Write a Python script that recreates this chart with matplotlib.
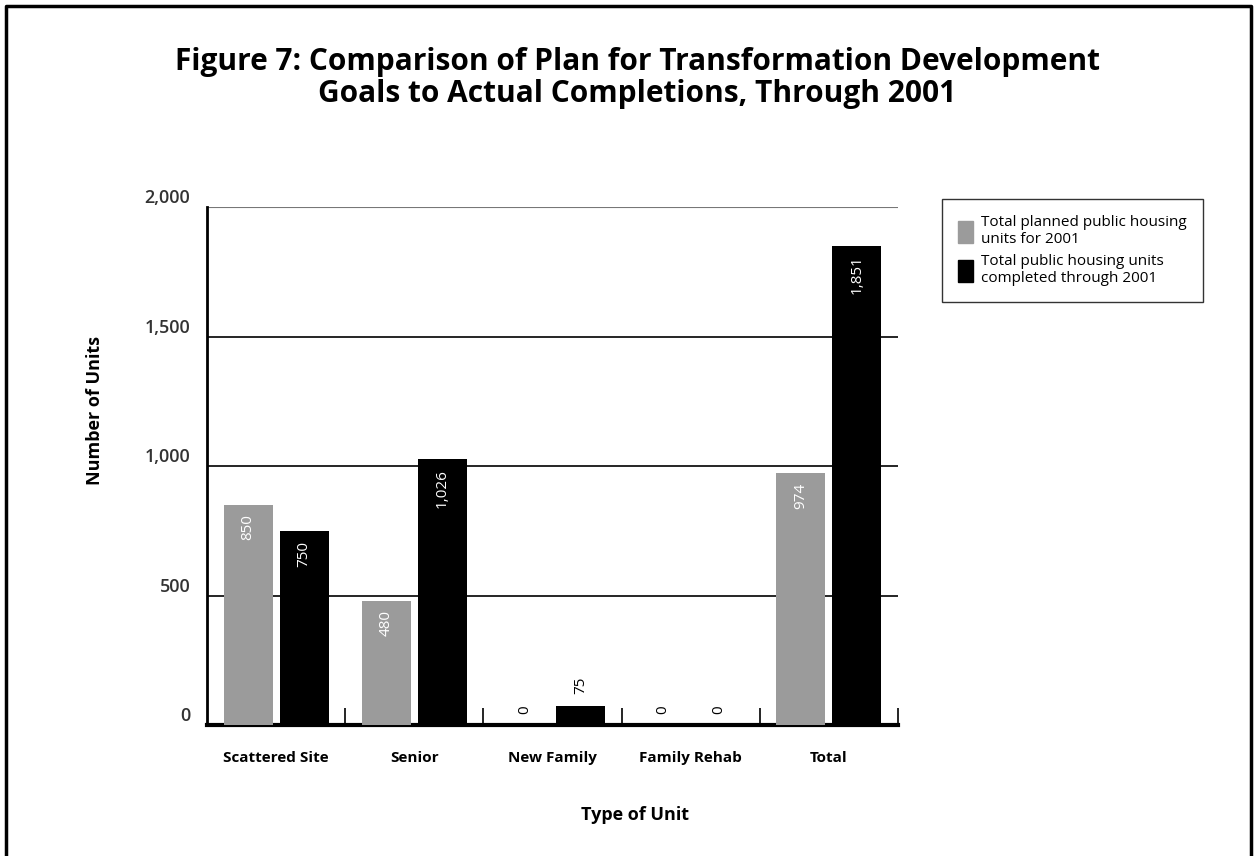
import matplotlib.pyplot as plt
from matplotlib.patches import Rectangle
import numpy as np

categories = ["Scattered Site", "Senior", "New Family", "Family Rehab", "Total"]
planned = [850, 480, 0, 0, 974]
completed = [750, 1026, 75, 0, 1851]
yticks = [0, 500, 1000, 1500, 2000]
ytick_labels = ["0", "500", "1,000", "1,500", "2,000"]

plt.rcParams["font.family"] = ["Open Sans", "DejaVu Sans"]

fig = plt.figure(figsize=(12.57, 8.56), dpi=100)
ax = fig.add_axes([0.1647, 0.1530, 0.5497, 0.6051])

x = np.arange(len(categories))
w = 0.355
off = 0.203
ax.bar(x - off, planned, w, color="#9b9b9b", zorder=3)
ax.bar(x + off, completed, w, color="#000000", zorder=3)

def put_label(xpos, val):
    txt = f"{val:,}"
    if val >= 200:
        ax.annotate(txt, (xpos, val), xytext=(0, -7), textcoords="offset points",
                    rotation=90, ha="center", va="top", color="white", fontsize=11, zorder=4)
    else:
        ax.annotate(txt, (xpos, val), xytext=(0, 8), textcoords="offset points",
                    rotation=90, ha="center", va="bottom", color="black", fontsize=11, zorder=4)

for i in range(len(categories)):
    put_label(x[i] - off, planned[i])
    put_label(x[i] + off, completed[i])

ax.set_xlim(-0.5, 4.5)
ax.set_ylim(0, 2000)

# horizontal rules behind the bars
for v in yticks[1:-1]:
    ax.axhline(v, color="black", linewidth=1.2, zorder=1)
ax.axhline(2000, color="#777777", linewidth=0.8, zorder=1)

ax.set_yticks(yticks)
ax.set_yticklabels(ytick_labels)
ax.tick_params(axis="y", length=0, pad=12, labelsize=13, labelcolor="#333333")
for lab in ax.get_yticklabels():
    lab.set_fontweight("semibold")
    lab.set_va("bottom")

# category boundaries as minor ticks, names at the centres
ax.set_xticks(x)
ax.set_xticklabels(categories, fontsize=11, fontweight="bold")
ax.tick_params(axis="x", which="major", length=0, pad=19)
ax.set_xticks(np.arange(0.5, 4.6, 1.0), minor=True)
ax.tick_params(axis="x", which="minor", direction="in", length=12, width=1.2, color="black")

for s in ["top", "right"]:
    ax.spines[s].set_visible(False)
ax.spines["left"].set_linewidth(2)
ax.spines["bottom"].set_linewidth(3)

fig.text(0.0756, 0.521, "Number of Units", rotation=90, ha="center", va="center",
         fontsize=13, fontweight="bold")
fig.text(0.505, 0.048, "Type of Unit", ha="center", va="center",
         fontsize=13, fontweight="bold")

fig.text(0.507, 0.909, "Figure 7: Comparison of Plan for Transformation Development\nGoals to Actual Completions, Through 2001",
         ha="center", va="center", fontsize=21.5, fontweight="bold", linespacing=1.1)

leg = fig.legend(handles=[Rectangle((0, 0), 1, 1, color="#9b9b9b"), Rectangle((0, 0), 1, 1, color="#000000")],
                 labels=["Total planned public housing\nunits for 2001", "Total public housing units\ncompleted through 2001"],
                 loc="upper left", bbox_to_anchor=(942 / 1257, 1 - 199 / 856), borderaxespad=0,
                 fontsize=11, frameon=True, fancybox=False, edgecolor="black",
                 handlelength=1.0, handleheight=1.8, handletextpad=0.5, borderpad=1.05,
                 labelspacing=0.45)
leg.get_frame().set_linewidth(1.0)

# outer frame: left, top and right edges
fig.add_artist(plt.Line2D([6 / 1257, 6 / 1257, 1251 / 1257, 1251 / 1257],
                          [0, 1 - 6 / 856, 1 - 6 / 856, 0],
                          transform=fig.transFigure, color="black", linewidth=2.5))

fig.savefig("out.png", dpi=100)
